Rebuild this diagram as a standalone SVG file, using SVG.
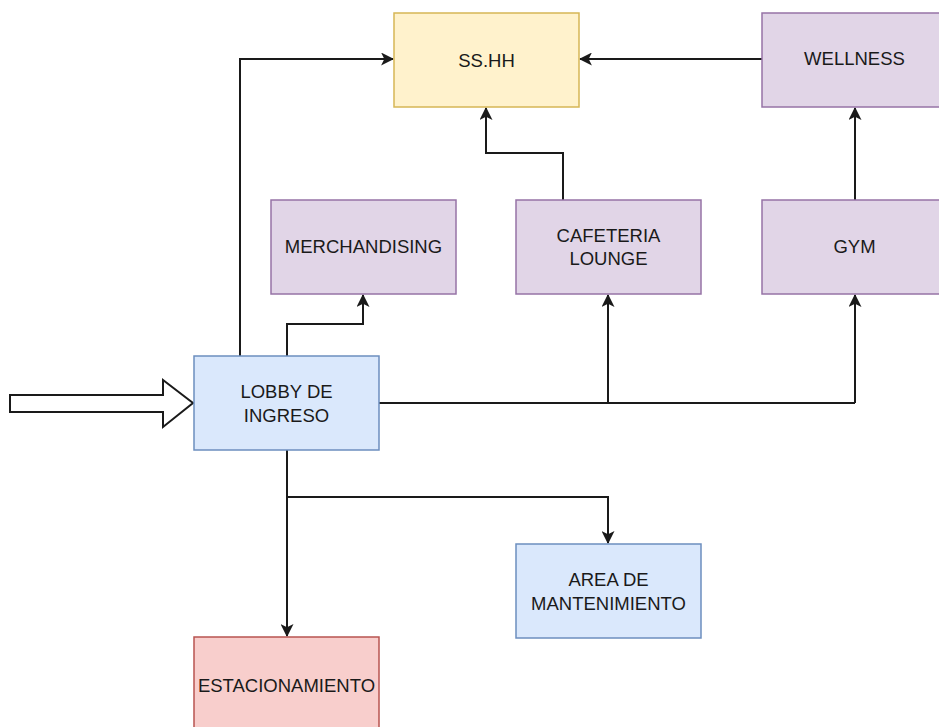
<svg xmlns="http://www.w3.org/2000/svg" width="939" height="727" viewBox="0 0 939 727">
<style>
.box{stroke-width:1.5}
.y{fill:#fff2cc;stroke:#d6b656}
.p{fill:#e1d5e7;stroke:#9673a6}
.b{fill:#dae8fc;stroke:#6c8ebf}
.r{fill:#f8cecc;stroke:#b85450}
text{font-family:"Liberation Sans",Arial,sans-serif;font-size:18.5px;fill:#1a1a1a;text-anchor:middle;dominant-baseline:central}
.c{fill:none;stroke:#1a1a1a;stroke-width:2;marker-end:url(#ah)}
.cn{fill:none;stroke:#1a1a1a;stroke-width:2}
</style>
<defs>
<marker id="ah" viewBox="0 0 12 12" refX="11" refY="6" markerWidth="13" markerHeight="13" markerUnits="userSpaceOnUse" orient="auto">
<path d="M0,0 L12,6 L0,12 L3,6 Z" fill="#1a1a1a"/>
</marker>
</defs>
<rect width="939" height="727" fill="#ffffff"/>
<g id="connectors">
<path class="c" d="M240,356 V59 H393"/>
<path class="c" d="M287,356 V324 H363 V295"/>
<path class="cn" d="M379,403 H855"/>
<path class="c" d="M855,403 V295"/>
<path class="c" d="M608,403 V295"/>
<path class="c" d="M563,200 V153 H486 V108"/>
<path class="c" d="M855,200 V108"/>
<path class="c" d="M762,59 H580"/>
<path class="c" d="M287,450 V636"/>
<path class="c" d="M287,497 H608 V543"/>
</g>
<g id="entry-arrow">
<path d="M10,395 H163 V380 L193,403 L163,427 V412 H10 Z" fill="#ffffff" stroke="#1a1a1a" stroke-width="2" stroke-linejoin="miter"/>
</g>
<g id="sshh"><rect class="box y" x="394" y="13" width="185" height="94"/><text x="486.5" y="60">SS.HH</text></g>
<g id="wellness"><rect class="box p" x="762" y="13" width="185" height="94"/><text x="854.5" y="58">WELLNESS</text></g>
<g id="merchandising"><rect class="box p" x="271" y="200" width="185" height="94"/><text x="363.5" y="246">MERCHANDISING</text></g>
<g id="cafeteria"><rect class="box p" x="516" y="200" width="185" height="94"/><text x="608.5" y="235">CAFETERIA</text><text x="608.5" y="258">LOUNGE</text></g>
<g id="gym"><rect class="box p" x="762" y="200" width="185" height="94"/><text x="854.5" y="246">GYM</text></g>
<g id="lobby"><rect class="box b" x="194" y="356" width="185" height="94"/><text x="286.5" y="391">LOBBY DE</text><text x="286.5" y="415">INGRESO</text></g>
<g id="mantenimiento"><rect class="box b" x="516" y="544" width="185" height="94"/><text x="608.5" y="579">AREA DE</text><text x="608.5" y="603">MANTENIMIENTO</text></g>
<g id="estacionamiento"><rect class="box r" x="194" y="637" width="185" height="100"/><text x="286.5" y="685">ESTACIONAMIENTO</text></g>
</svg>
